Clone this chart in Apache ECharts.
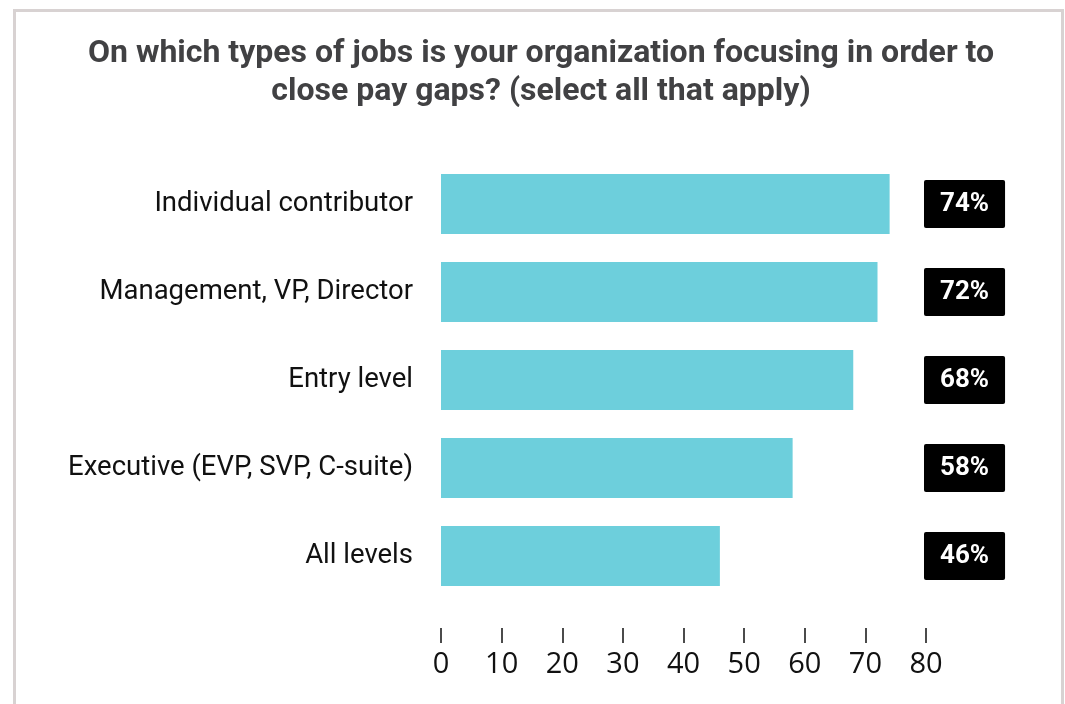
<!DOCTYPE html>
<html>
<head>
<meta charset="utf-8">
<script src="https://cdn.jsdelivr.net/npm/echarts@6/dist/echarts.min.js"></script>
<style>
html,body{margin:0;padding:0;background:#fff;}
#chart{width:1065px;height:704px;}
</style>
</head>
<body>
<div id="chart"></div>
<script>
const titleText = 'On which types of jobs is your organization focusing in order to\nclose pay gaps? (select all that apply)';
const categories = ['Individual contributor', 'Management, VP, Director', 'Entry level', 'Executive (EVP, SVP, C-suite)', 'All levels'];
const values = [74, 72, 68, 58, 46];
const xTicks = { min: 0, max: 80, interval: 10 };

const chart = echarts.init(document.getElementById('chart'));
chart.setOption({
  backgroundColor: '#ffffff',
  animation: false,
  graphic: [{
    type: 'rect',
    shape: { x: 14.5, y: 10.5, width: 1048, height: 740 },
    style: { fill: 'none', stroke: '#d8d2d2', lineWidth: 3 },
    silent: true
  }],
  title: {
    text: titleText,
    left: 536,
    textAlign: 'center',
    top: 30,
    textStyle: {
      fontFamily: 'Roboto',
      fontWeight: 'bold',
      fontSize: 32,
      lineHeight: 38,
      color: '#414143'
    }
  },
  grid: { left: 441, right: 139, top: 160, bottom: 104, containLabel: false },
  xAxis: {
    type: 'value',
    min: xTicks.min, max: xTicks.max, interval: xTicks.interval,
    offset: 28,
    axisLine: { show: false },
    axisTick: { show: true, length: 15, lineStyle: { color: '#111', width: 1.5 } },
    splitLine: { show: false },
    axisLabel: { margin: 22, fontFamily: 'Open Sans', fontSize: 29, color: '#111' }
  },
  yAxis: [{
    type: 'category',
    data: categories,
    inverse: true,
    axisLine: { show: false },
    axisTick: { show: false },
    axisLabel: { margin: 28, fontFamily: 'Roboto', fontSize: 27.5, color: '#111' }
  }, {
    type: 'category',
    position: 'right',
    data: values.map(v => v + '%'),
    inverse: true,
    axisLine: { show: false },
    axisTick: { show: false },
    axisLabel: {
      margin: -2,
      align: 'left',
      fontFamily: 'Roboto',
      fontWeight: 'bold',
      fontSize: 26,
      color: '#fff',
      backgroundColor: '#000',
      borderRadius: 2,
      padding: [11, 16, 11, 16]
    }
  }],
  series: [{
    type: 'bar',
    data: values,
    barWidth: '68%',
    itemStyle: { color: '#6dcfdc' },
    label: { show: false }
  }]
});
</script>
</body>
</html>
